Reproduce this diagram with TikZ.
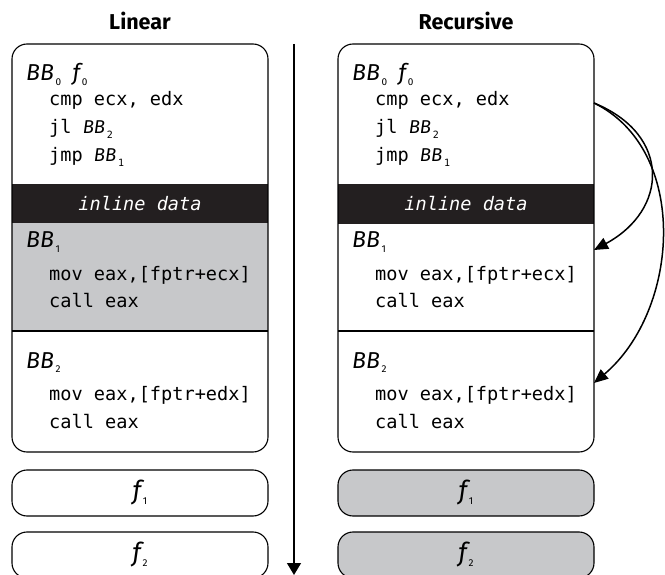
\documentclass[tikz,border=0pt]{standalone}
\usepackage{fontspec}
\setsansfont{Fira Sans}
\setmonofont{DejaVu Sans Mono}
\usetikzlibrary{arrows.meta}

\definecolor{bbgray}{RGB}{199,200,202}
\definecolor{bbblack}{RGB}{35,31,32}

\newcommand{\subn}[1]{\raisebox{-4.5pt}{\upshape\fontsize{10}{10}\selectfont\,#1}}
\newcommand{\bbk}[1]{{\sffamily\itshape BB}\subn{#1}}
\newcommand{\fk}[1]{{\sffamily\itshape f}\subn{#1}}

\tikzset{
	block/.style={rectangle,inner sep=0,outer sep=0,minimum width=256pt},
	frame/.style={draw,line width=1.1pt,rounded corners=15pt,inner sep=0,minimum width=256pt},
	fbox/.style={frame,minimum height=46pt,font=\sffamily\itshape\fontsize{26}{26}\selectfont},
	data/.style={block,fill=bbblack,minimum height=40pt,text=white,font=\ttfamily\itshape\fontsize{18.6}{22}\selectfont},
	bblabel/.style={anchor=base west,inner sep=0,font=\sffamily\itshape\fontsize{23}{23}\selectfont},
	code/.style={anchor=base west,inner sep=0,font=\ttfamily\fontsize{18.6}{22}\selectfont},
	head/.style={anchor=base,inner sep=0,font=\sffamily\bfseries\fontsize{21.5}{24}\selectfont},
	flow/.style={-{Triangle[length=14pt,width=12pt]},line width=1.5pt},
}

\begin{document}
\begin{tikzpicture}[x=1pt,y=-1pt]
	\useasboundingbox (0,0) rectangle (665,575);

	% column heads
	\node[head] (hlin) at (140,30) {Linear};
	\node[head] (hrec) at (466,30) {Recursive};

	% linear layout
	\node[block,minimum height=139pt] (lbb0) at (140,113.5) {};
	\node[data] (ldata) at (140,204) {inline data};
	\node[block,fill=bbgray,minimum height=108pt] (lbb1) at (140,277) {};
	\node[block,minimum height=121pt] (lbb2) at (140,391.5) {};
	\draw[line width=1.1pt] (lbb1.south west) -- (lbb1.south east);
	\node[frame,minimum height=408pt] (lfun0) at (140,248) {};
	\node[bblabel] (lt0) at (26,81) {\bbk{0}\enspace\fk{0}};
	\node[code] (lc1) at (49,106) {cmp ecx, edx};
	\node[code] (lc2) at (49,134) {jl \bbk{2}};
	\node[code] (lc3) at (49,162) {jmp \bbk{1}};
	\node[bblabel] (lt1) at (26,248) {\bbk{1}};
	\node[code] (lc4) at (49,280) {mov eax,[fptr+ecx]};
	\node[code] (lc5) at (49,308) {call eax};
	\node[bblabel] (lt2) at (26,368) {\bbk{2}};
	\node[code] (lc6) at (49,400) {mov eax,[fptr+edx]};
	\node[code] (lc7) at (49,428) {call eax};
	\node[fbox] (lf1) at (140,493) {\fk{1}};
	\node[fbox] (lf2) at (140,555) {\fk{2}};

	% recursive layout
	\node[block,minimum height=139pt] (rbb0) at (466,113.5) {};
	\node[data] (rdata) at (466,204) {inline data};
	\node[block,minimum height=108pt] (rbb1) at (466,277) {};
	\node[block,minimum height=121pt] (rbb2) at (466,391.5) {};
	\draw[line width=1.1pt] (rbb1.south west) -- (rbb1.south east);
	\node[frame,minimum height=408pt] (rfun0) at (466,248) {};
	\node[bblabel] (rt0) at (352,81) {\bbk{0}\enspace\fk{0}};
	\node[code] (rc1) at (375,106) {cmp ecx, edx};
	\node[code] (rc2) at (375,134) {jl \bbk{2}};
	\node[code] (rc3) at (375,162) {jmp \bbk{1}};
	\node[bblabel] (rt1) at (352,248) {\bbk{1}};
	\node[code] (rc4) at (375,280) {mov eax,[fptr+ecx]};
	\node[code] (rc5) at (375,308) {call eax};
	\node[bblabel] (rt2) at (352,368) {\bbk{2}};
	\node[code] (rc6) at (375,400) {mov eax,[fptr+edx]};
	\node[code] (rc7) at (375,428) {call eax};
	\node[fbox,fill=bbgray] (rf1) at (466,493) {\fk{1}};
	\node[fbox,fill=bbgray] (rf2) at (466,555) {\fk{2}};

	% order axis
	\coordinate (tstart) at (294,44);
	\coordinate (tend) at (294,575);
	\draw[-{Triangle[length=12pt,width=14pt]},line width=1.4pt] (tstart) -- (tend);

	% branch targets
	\coordinate (rjcc) at ([yshift=10.5pt]rbb0.east);
	\coordinate (rin1) at ([yshift=-27pt]rbb1.north east);
	\coordinate (rin2) at ([yshift=-52pt]rbb2.north east);
	\draw[flow] (rjcc) .. controls +(78,32) and +(74,-40) .. (rin1);
	\draw[flow] (rjcc) .. controls +(96,47) and +(86,-73) .. (rin2);
\end{tikzpicture}
\end{document}
